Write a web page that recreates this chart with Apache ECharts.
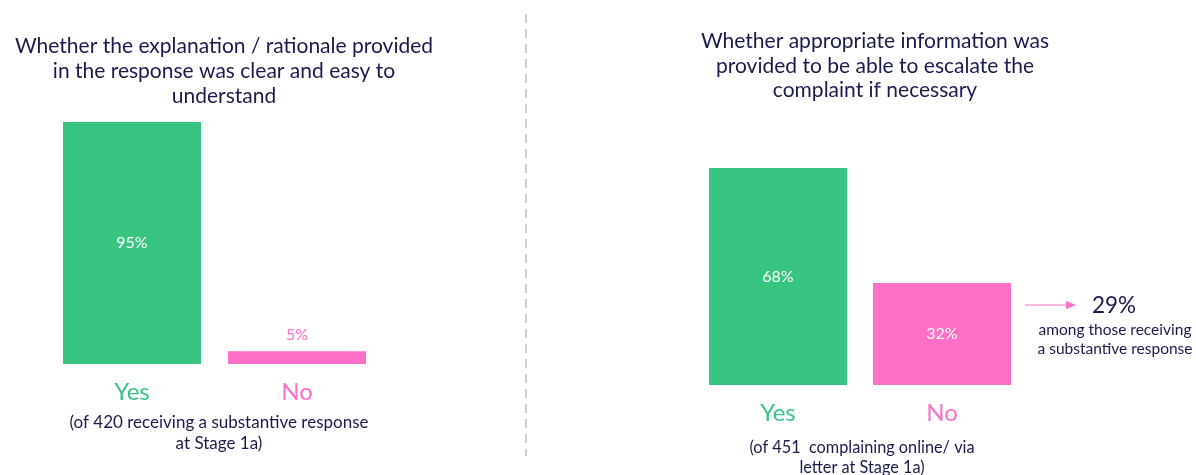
<!DOCTYPE html>
<html>
<head>
<meta charset="utf-8">
<script src="https://cdn.jsdelivr.net/npm/echarts@6/dist/echarts.min.js"></script>
<style>
  html, body { margin: 0; padding: 0; background: #fff; }
  #chart { width: 1196px; height: 475px; }
</style>
</head>
<body>
<div id="chart"></div>
<script>
// Survey answers, percent of respondents
const categories = ['Yes', 'No'];
const clarityValues = [95, 5];
const escalationValues = [68, 32];
const substantiveNoShare = '29%';

const leftTitle = 'Whether the explanation / rationale provided\nin the response was clear and easy to\nunderstand';
const rightTitle = 'Whether appropriate information was\nprovided to be able to escalate the\ncomplaint if necessary';
const leftNote = '(of 420 receiving a substantive response\nat Stage 1a)';
const rightNote = '(of 451  complaining online/ via\nletter at Stage 1a)';
const sideNote = 'among those receiving\na substantive response';

const GREEN = '#38c582';
const PINK = '#ff6ec7';
const NAVY = '#1b1a4f';
const FONT = 'Lato, "Open Sans", sans-serif';

const chart = echarts.init(document.getElementById('chart'));

function barData(values) {
  return values.map((v, i) => ({
    value: v,
    itemStyle: { color: i === 0 ? GREEN : PINK },
    label: v < 10
      ? { position: 'top', color: PINK, distance: 8 }
      : { position: 'inside', color: '#ffffff' }
  }));
}

function catAxis(gridIndex) {
  return {
    type: 'category',
    gridIndex,
    data: categories,
    axisLine: { show: false },
    axisTick: { show: false },
    axisLabel: {
      margin: 16,
      fontSize: 24,
      fontFamily: FONT,
      formatter: (v) => v === 'Yes' ? '{y|Yes}' : '{n|No}',
      rich: {
        y: { color: GREEN, fontSize: 24, fontFamily: FONT },
        n: { color: PINK, fontSize: 24, fontFamily: FONT }
      }
    }
  };
}

function valAxis(gridIndex) {
  return {
    type: 'value', gridIndex, min: 0, max: 100, show: false,
    splitLine: { show: false }
  };
}

const labelBase = {
  show: true, fontSize: 16, fontFamily: FONT,
  formatter: (p) => p.value + '%'
};

chart.setOption({
  animation: false,
  backgroundColor: '#ffffff',
  title: [
    { text: leftTitle, left: 219, top: 29, textAlign: 'center',
      textStyle: { color: NAVY, fontSize: 21, fontWeight: 'normal', fontFamily: FONT, lineHeight: 25, align: 'center' } },
    { text: rightTitle, left: 870, top: 24, textAlign: 'center',
      textStyle: { color: NAVY, fontSize: 21, fontWeight: 'normal', fontFamily: FONT, lineHeight: 24.5, align: 'center' } },
    { text: leftNote, left: 214, top: 407, textAlign: 'center',
      textStyle: { color: NAVY, fontSize: 17, fontWeight: 'normal', fontFamily: FONT, lineHeight: 21, align: 'center' } },
    { text: rightNote, left: 857, top: 433, textAlign: 'center',
      textStyle: { color: NAVY, fontSize: 16.3, fontWeight: 'normal', fontFamily: FONT, lineHeight: 19.5, align: 'center' } }
  ],
  grid: [
    { left: 49.5, width: 330, top: 109.3, height: 254.7 },
    { left: 696, width: 328, top: 66, height: 319 }
  ],
  xAxis: [catAxis(0), catAxis(1)],
  yAxis: [valAxis(0), valAxis(1)],
  series: [
    { type: 'bar', xAxisIndex: 0, yAxisIndex: 0, barWidth: 138,
      data: barData(clarityValues), label: labelBase },
    { type: 'bar', xAxisIndex: 1, yAxisIndex: 1, barWidth: 138,
      data: barData(escalationValues), label: labelBase }
  ],
  graphic: [
    // divider between the two panels
    { type: 'line', shape: { x1: 526, y1: 14, x2: 526, y2: 456 },
      style: { stroke: '#cfcfcf', lineWidth: 2, lineDash: [9, 6] } },
    // pointer from the "No" bar to the sub-group figure
    { type: 'line', shape: { x1: 1025, y1: 305, x2: 1068, y2: 305 },
      style: { stroke: PINK, lineWidth: 1.2 } },
    { type: 'polygon', shape: { points: [[1076, 305], [1066, 301], [1066, 309]] },
      style: { fill: PINK } },
    { type: 'text', x: 1114, y: 306,
      style: { text: substantiveNoShare, fill: NAVY, fontSize: 22.5, fontFamily: FONT,
        align: 'center', verticalAlign: 'middle' } },
    { type: 'text', x: 1115, y: 320,
      style: { text: sideNote, fill: NAVY, fontSize: 15.5, fontFamily: FONT, lineHeight: 19,
        align: 'center', verticalAlign: 'top' } }
  ]
});
</script>
</body>
</html>
